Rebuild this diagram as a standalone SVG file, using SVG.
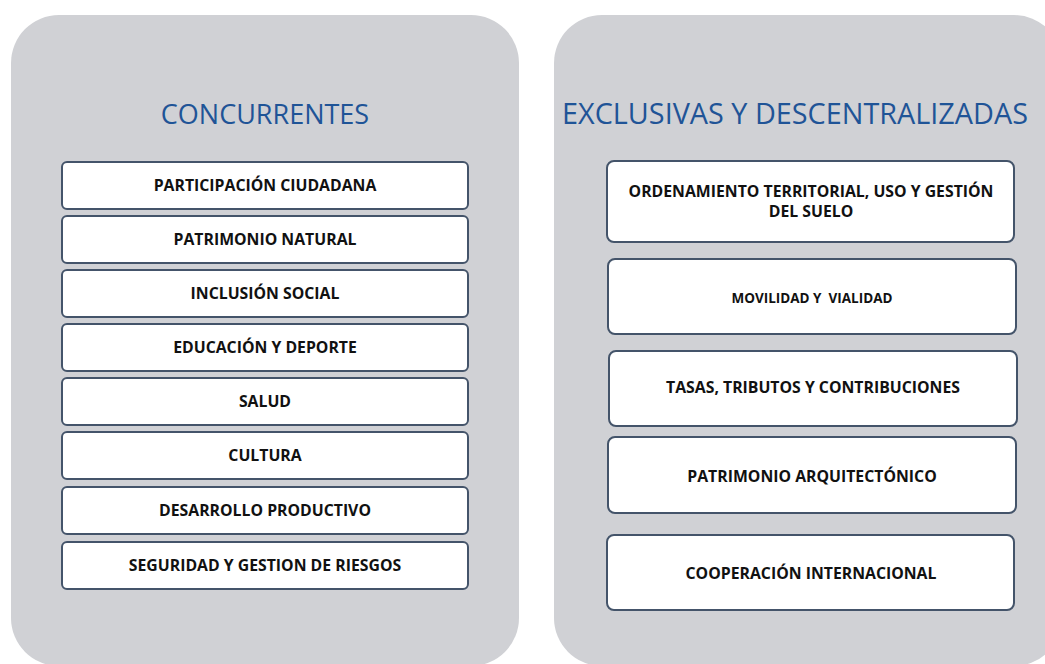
<svg xmlns="http://www.w3.org/2000/svg" width="1045" height="664" viewBox="0 0 1045 664">
<style>
.panel{fill:#D0D1D5;}
.box{fill:#FFFFFF;stroke:#44546A;stroke-width:2;}
.title{font-family:"Open Sans","Liberation Sans",sans-serif;font-size:27px;fill:#1F5497;text-anchor:middle;}
.lbl{font-family:"Open Sans","Liberation Sans",sans-serif;font-weight:bold;font-size:15.8px;fill:#111111;text-anchor:middle;}
.sm{font-size:13.5px;white-space:pre;}
</style>
<rect fill="#FFFFFF" x="0" y="0" width="1045" height="664"/>
<g id="panel-concurrentes">
<rect class="panel" x="11" y="15" width="508" height="651" rx="48"/>
<text class="title" x="265" y="124">CONCURRENTES</text>
</g>
<g id="panel-exclusivas">
<rect class="panel" x="554" y="15" width="508" height="651" rx="48"/>
<text class="title" x="795" y="124" style="font-size:28.8px">EXCLUSIVAS Y DESCENTRALIZADAS</text>
</g>
<g id="n1"><rect class="box" x="62" y="162" width="406" height="47" rx="5"/><text class="lbl" x="265" y="191">PARTICIPACIÓN CIUDADANA</text></g>
<g id="n2"><rect class="box" x="62" y="216" width="406" height="47" rx="5"/><text class="lbl" x="265" y="245">PATRIMONIO NATURAL</text></g>
<g id="n3"><rect class="box" x="62" y="270" width="406" height="47" rx="5"/><text class="lbl" x="265" y="299">INCLUSIÓN SOCIAL</text></g>
<g id="n4"><rect class="box" x="62" y="324" width="406" height="47" rx="5"/><text class="lbl" x="265" y="353">EDUCACIÓN Y DEPORTE</text></g>
<g id="n5"><rect class="box" x="62" y="378" width="406" height="47" rx="5"/><text class="lbl" x="265" y="407">SALUD</text></g>
<g id="n6"><rect class="box" x="62" y="432" width="406" height="47" rx="5"/><text class="lbl" x="265" y="461">CULTURA</text></g>
<g id="n7"><rect class="box" x="62" y="487" width="406" height="47" rx="5"/><text class="lbl" x="265" y="516">DESARROLLO PRODUCTIVO</text></g>
<g id="n8"><rect class="box" x="62" y="542" width="406" height="47" rx="5"/><text class="lbl" x="265" y="571">SEGURIDAD Y GESTION DE RIESGOS</text></g>
<g id="r1"><rect class="box" x="607" y="161" width="407" height="81" rx="7"/><text class="lbl" x="811" y="197">ORDENAMIENTO TERRITORIAL, USO Y GESTIÓN</text><text class="lbl" x="811" y="217">DEL SUELO</text></g>
<g id="r2"><rect class="box" x="608" y="259" width="408" height="75" rx="7"/><text class="lbl sm" x="812" y="303">MOVILIDAD Y  VIALIDAD</text></g>
<g id="r3"><rect class="box" x="609" y="351" width="408" height="75" rx="7"/><text class="lbl" x="813" y="393">TASAS, TRIBUTOS Y CONTRIBUCIONES</text></g>
<g id="r4"><rect class="box" x="608" y="437" width="408" height="76" rx="7"/><text class="lbl" x="812" y="482">PATRIMONIO ARQUITECTÓNICO</text></g>
<g id="r5"><rect class="box" x="607" y="535" width="407" height="75" rx="7"/><text class="lbl" x="811" y="579">COOPERACIÓN INTERNACIONAL</text></g>
<g id="connectors"></g>
</svg>
